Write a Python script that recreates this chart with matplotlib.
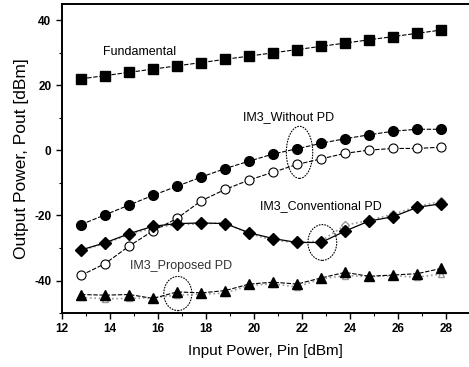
import matplotlib
matplotlib.use('Agg')
import matplotlib.pyplot as plt
from matplotlib.patches import Ellipse
from matplotlib.ticker import MultipleLocator

plt.rcParams['font.family'] = ['Liberation Sans', 'DejaVu Sans']
plt.rcParams['axes.unicode_minus'] = False

# Input power (dBm)
pin = [12.8, 13.8, 14.8, 15.8, 16.8, 17.8, 18.8, 19.8, 20.8, 21.8, 22.8, 23.8, 24.8, 25.8, 26.8, 27.8]

# Output power (dBm)
fundamental = [22, 23, 24, 25, 26, 27, 28, 29, 30, 31, 32, 33, 34, 35, 36, 37]
im3_without = [-22.8, -19.8, -16.8, -13.8, -11.0, -8.2, -5.6, -3.3, -1.1, 0.5, 2.2, 3.6, 4.8, 5.9, 6.5, 6.5]
im3_without_open = [-38.4, -34.8, -29.4, -24.7, -20.9, -15.5, -12.0, -9.1, -6.7, -4.3, -2.6, -0.9, 0.1, 0.6, 0.6, 1.0]
im3_conv = [-30.6, -28.4, -25.6, -23.3, -22.5, -22.3, -22.5, -25.3, -27.1, -28.3, -28.3, -24.8, -21.7, -20.4, -17.5, -16.4]
im3_conv_sim = [-30.8, -28.6, -25.9, -23.8, -22.8, -22.6, -22.2, -25.6, -27.6, -28.4, -27.8, -23.0, -21.5, -19.6, -17.3, -15.6]
im3_prop = [-44.3, -44.5, -44.3, -45.5, -43.5, -43.8, -43.1, -41.1, -40.5, -41.1, -39.2, -37.5, -38.7, -38.3, -37.9, -36.3]
im3_prop_sim = [-45.2, -45.6, -45.5, -45.3, -44.5, -44.2, -43.9, -41.5, -41.0, -42.0, -39.5, -38.5, -38.8, -38.5, -39.0, -38.0]

fig = plt.figure(figsize=(4.69, 3.67), dpi=100)
ax = fig.add_axes([0.132, 0.147, 0.870, 0.842])

dash = (0, (4, 1.5))
ax.plot(pin, im3_conv_sim, color='#999999', ls=':', lw=1.2, marker='D', ms=4.5,
        mfc='white', mec='#999999')
ax.plot(pin, im3_prop_sim, color='#999999', ls=':', lw=1.2, marker='^', ms=5,
        mfc='white', mec='#999999')
ax.plot(pin, fundamental, color='black', ls=dash, lw=0.8, marker='s', ms=7)
ax.plot(pin, im3_without, color='black', ls=dash, lw=0.8, marker='o', ms=7)
ax.plot(pin, im3_without_open, color='black', ls=dash, lw=0.8, marker='o', ms=6.5,
        mfc='white', mew=0.8)
ax.plot(pin, im3_conv, color='black', ls='-', lw=0.9, marker='D', ms=6.5)
ax.plot(pin, im3_prop, color='black', ls=dash, lw=0.8, marker='^', ms=7)

# highlighted points
for cx, cy, w, h in [(21.9, -0.6, 1.1, 16), (22.85, -28.3, 1.2, 11), (16.83, -44, 1.17, 10.5)]:
    ax.add_patch(Ellipse((cx, cy), w, h, fill=False, ec='black', lw=0.8, ls=(0, (1.5, 1))))

ax.text(13.7, 30.2, 'Fundamental', fontsize=9, va='center')
ax.text(19.54, 10.2, 'IM3_Without PD', fontsize=9, va='center')
ax.text(20.25, -17.2, 'IM3_Conventional PD', fontsize=9, va='center')
ax.text(14.83, -35.4, 'IM3_Proposed PD', fontsize=9, va='center', color='#333333')

ax.set_xlim(12, 29)
ax.set_ylim(-50, 45)
ax.xaxis.set_major_locator(MultipleLocator(2))
ax.xaxis.set_minor_locator(MultipleLocator(1))
ax.yaxis.set_major_locator(MultipleLocator(20))
ax.yaxis.set_minor_locator(MultipleLocator(10))
ax.tick_params(which='major', direction='out', length=4, width=1, labelsize=8.5)
ax.tick_params(which='minor', direction='out', length=2, width=0.8)
for lab in ax.get_xticklabels() + ax.get_yticklabels():
    lab.set_fontweight('bold')
ax.spines['right'].set_visible(False)
for s in ['left', 'bottom', 'top']:
    ax.spines[s].set_linewidth(1.4)

ax.set_xlabel('Input Power, Pin [dBm]', fontsize=11, labelpad=6)
ax.set_ylabel('Output Power, Pout [dBm]', fontsize=12.5, labelpad=4)

fig.savefig('out.png', dpi=100)
